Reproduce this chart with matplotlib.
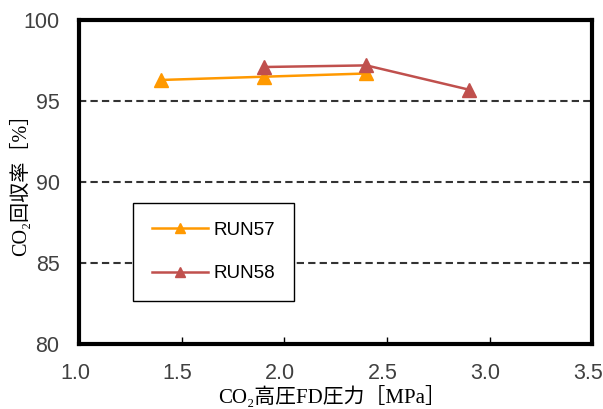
import matplotlib
matplotlib.use('Agg')
import matplotlib.pyplot as plt
import matplotlib.transforms as mtransforms

# --- datos ---
run57_x = [1.4, 1.9, 2.4]
run57_y = [96.3, 96.5, 96.7]
run58_x = [1.9, 2.4, 2.9]
run58_y = [97.1, 97.2, 95.7]
xticks = [1.0, 1.5, 2.0, 2.5, 3.0, 3.5]
yticks = [80, 85, 90, 95, 100]

label_font = ['Liberation Serif', 'Noto Sans CJK JP', 'DejaVu Serif']
tick_font = ['Liberation Sans', 'DejaVu Sans']

fig = plt.figure(figsize=(6.03, 4.09), dpi=100)
ax = fig.add_axes([0.131, 0.159, 0.851, 0.792])

ax.plot(run57_x, run57_y, color='#FF9900', marker='^', markersize=10,
        linewidth=1.8, label='RUN57')
ax.plot(run58_x, run58_y, color='#C0504D', marker='^', markersize=10,
        linewidth=1.8, label='RUN58')

# lineas de referencia
for yv in [85, 90, 95]:
    ax.axhline(yv, color='#333333', linestyle=(0, (3.5, 2)), linewidth=1.5, zorder=0)

ax.set_xlim(1.0, 3.5)
ax.set_ylim(80, 100)
ax.set_xticks(xticks)
ax.set_xticklabels([f'{v:.1f}' for v in xticks], family=tick_font, fontsize=15.5, color='#404040')
ax.set_yticks(yticks)
ax.set_yticklabels([str(v) for v in yticks], family=tick_font, fontsize=15.5, color='#404040')
ax.tick_params(axis='x', direction='in', length=5, width=1, pad=14)
ax.tick_params(axis='y', length=0, pad=14)

# etiquetas x ligeramente a la izquierda, como en Excel
off = mtransforms.ScaledTranslation(-0.04, 0, fig.dpi_scale_trans)
for lbl in ax.get_xticklabels():
    lbl.set_transform(lbl.get_transform() + off)

for s in ax.spines.values():
    s.set_linewidth(3)
    s.set_color('black')

# titulos de ejes
fig.text(332 / 603, 1 - 397 / 409, 'CO₂高圧FD圧力［MPa］', family=label_font, fontsize=15,
         ha='center', va='center')
fig.text(21 / 603, 1 - 180 / 409, 'CO₂回収率［%］', family=label_font, fontsize=14.5,
         rotation=90, ha='center', va='center')

leg = ax.legend(loc='upper left', bbox_to_anchor=(0.105, 0.435), fancybox=False,
                edgecolor='black', framealpha=1, handlelength=3.0, handletextpad=0.3,
                borderpad=1.0, borderaxespad=0, labelspacing=1.4, markerscale=0.75,
                prop={'family': tick_font, 'size': 13.5})
leg.get_frame().set_linewidth(1)

fig.savefig('out.png', dpi=100)
